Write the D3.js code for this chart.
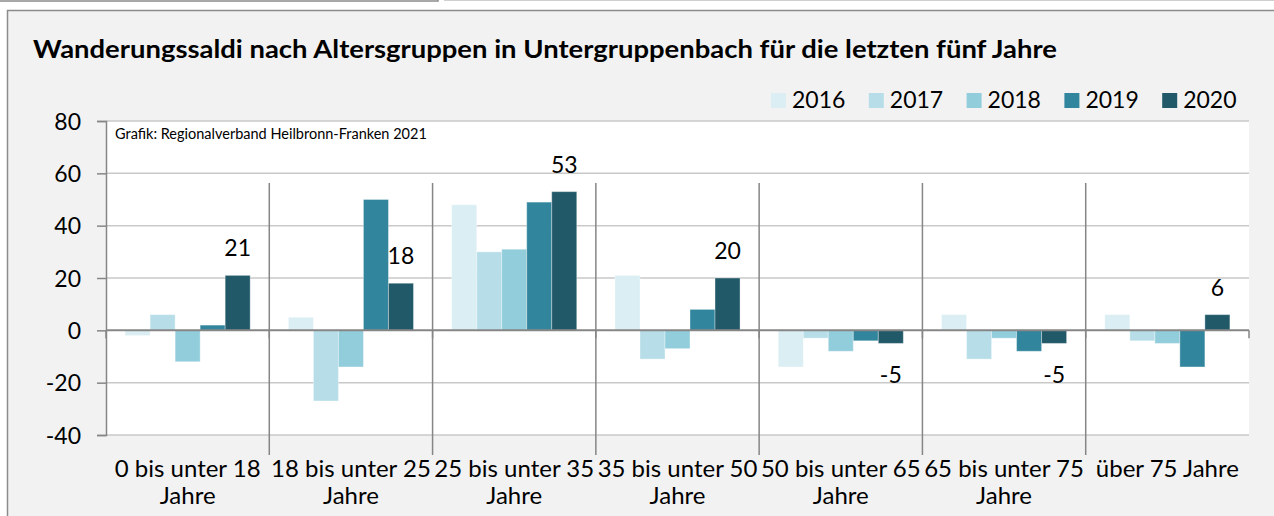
<!DOCTYPE html>
<html>
<head>
<meta charset="utf-8">
<script src="https://cdn.jsdelivr.net/npm/d3@7"></script>
<style>
    body { margin: 0; background: #ffffff; }
    svg text { font-family: Lato, "Open Sans", sans-serif; fill: #000; }
</style>
</head>
<body>
<div id="chart"></div>
<script>
const categories = ["0 bis unter 18 Jahre", "18 bis unter 25 Jahre", "25 bis unter 35 Jahre",
    "35 bis unter 50 Jahre", "50 bis unter 65 Jahre", "65 bis unter 75 Jahre", "über 75 Jahre"];
const years = ["2016", "2017", "2018", "2019", "2020"];

const values2016 = [-2, 5, 48, 21, -14, 6, 6];
const values2017 = [6, -27, 30, -11, -3, -11, -4];
const values2018 = [-12, -14, 31, -7, -8, -3, -5];
const values2019 = [2, 50, 49, 8, -4, -8, -14];
const values2020 = [21, 18, 53, 20, -5, -5, 6];

const yTicks = [-40, -20, 0, 20, 40, 60, 80];

const colors = ["#daeef3", "#b7dee8", "#92cddc", "#31859c", "#215968"];

const series = [values2016, values2017, values2018, values2019, values2020];

const W = 1274, H = 516;
const margin = { top: 121, right: 25, bottom: 81, left: 106 };
const width = W - margin.left - margin.right;
const height = H - margin.top - margin.bottom;

const svg = d3.select("#chart")
    .append("svg")
    .attr("width", W)
    .attr("height", H);

// outer frame (chart area), slightly grey
svg.append("rect")
    .attr("x", 7.5).attr("y", 10.5)
    .attr("width", W).attr("height", H)
    .attr("fill", "#f2f2f2")
    .attr("stroke", "#8c8c8c")
    .attr("stroke-width", 1.5);

// bits of the neighbouring boxes at the top
svg.append("path")
    .attr("d", "M0,1 H438 V-2")
    .attr("fill", "none")
    .attr("stroke", "#8c8c8c")
    .attr("stroke-width", 1.5);
svg.append("line")
    .attr("x1", 444).attr("x2", W).attr("y1", 0.5).attr("y2", 0.5)
    .attr("stroke", "#cfcfcf");

// title is wider in the original font, so stretch it to the same length
svg.append("text")
    .attr("x", 33)
    .attr("y", 58)
    .attr("font-size", "24px")
    .attr("font-weight", "bold")
    .attr("textLength", 1024)
    .attr("lengthAdjust", "spacingAndGlyphs")
    .text("Wanderungssaldi nach Altersgruppen in Untergruppenbach für die letzten fünf Jahre");

const g = svg.append("g")
    .attr("transform", `translate(${margin.left}, ${margin.top})`);

const x0 = d3.scaleBand()
    .domain(categories)
    .range([0, width]);

const inner = x0.bandwidth() * 0.117;
const x1 = d3.scaleBand()
    .domain(years)
    .range([inner, x0.bandwidth() - inner]);

const y = d3.scaleLinear()
    .domain([-40, 80])
    .range([height, 0]);

// plot area
g.append("rect")
    .attr("width", width)
    .attr("height", height)
    .attr("fill", "#ffffff");

// gridlines
g.selectAll(".grid")
    .data(yTicks.filter(d => d !== 0))
    .join("line")
    .attr("x1", 0).attr("x2", width)
    .attr("y1", d => y(d)).attr("y2", d => y(d))
    .attr("stroke", "#c9c9c9")
    .attr("stroke-width", 1.5);

// y axis (plain hyphen for negatives, like the original)
const yAxis = g.append("g")
    .call(d3.axisLeft(y).tickValues(yTicks).tickSize(9).tickPadding(16).tickFormat(d => String(d)));
yAxis.select(".domain").attr("stroke", "#868686").attr("stroke-width", 1.5);
yAxis.selectAll(".tick line").attr("stroke", "#868686").attr("stroke-width", 1.5);
yAxis.selectAll(".tick text")
    .attr("font-size", "23px")
    .attr("font-family", "Lato, sans-serif")
    .attr("dy", "0.36em")
    .attr("fill", "#000");

// bars
const groups = g.selectAll(".cat")
    .data(categories)
    .join("g")
    .attr("transform", d => `translate(${x0(d)}, 0)`);

groups.selectAll("rect")
    .data((c, ci) => years.map((yr, si) => ({ year: yr, si: si, value: series[si][ci] })))
    .join("rect")
    .attr("x", d => x1(d.year))
    .attr("width", x1.bandwidth())
    .attr("y", d => y(Math.max(0, d.value)))
    .attr("height", d => Math.abs(y(d.value) - y(0)))
    .attr("fill", d => colors[d.si])
    .attr("stroke", "rgba(255,255,255,0.35)")
    .attr("stroke-width", 1);

// zero line + category ticks
g.append("line")
    .attr("x1", 0).attr("x2", width)
    .attr("y1", y(0)).attr("y2", y(0))
    .attr("stroke", "#868686")
    .attr("stroke-width", 2);

const bounds = categories.map(c => x0(c)).concat([width]);
g.selectAll(".ztick")
    .data(bounds)
    .join("line")
    .attr("x1", d => d).attr("x2", d => d)
    .attr("y1", y(0)).attr("y2", y(0) + 8)
    .attr("stroke", "#868686")
    .attr("stroke-width", 1.5);

// long separators between the age groups
g.selectAll(".sep")
    .data(bounds.slice(1, -1))
    .join("line")
    .attr("x1", d => d).attr("x2", d => d)
    .attr("y1", 62).attr("y2", 334)
    .attr("stroke", "#868686")
    .attr("stroke-width", 1.5);

// data labels for 2020
g.selectAll(".lbl")
    .data(values2020)
    .join("text")
    .attr("x", (d, i) => x0(categories[i]) + x1("2020") + x1.bandwidth() / 2)
    .attr("y", d => d >= 0 ? y(d) - 19 : y(d) + 40)
    .attr("text-anchor", "middle")
    .attr("font-size", "23px")
    .text(d => d);

g.append("text")
    .attr("x", 9)
    .attr("y", 18)
    .attr("font-size", "14.5px")
    .text("Grafik: Regionalverband Heilbronn-Franken 2021");

// category labels, wrapped before "Jahre" when too wide
const catLabels = g.selectAll(".clbl")
    .data(categories)
    .join("text")
    .attr("text-anchor", "middle")
    .attr("font-size", "24px")
    .attr("transform", d => `translate(${x0(d) + x0.bandwidth() / 2}, ${height + 42})`);

catLabels.each(function(d) {
    const t = d3.select(this);
    t.text(d);
    if (this.getComputedTextLength() > x0.bandwidth()) {
        const words = d.split(" ");
        const last = words.pop();
        t.text(null);
        t.append("tspan").attr("x", 0).attr("y", 0).text(words.join(" "));
        t.append("tspan").attr("x", 0).attr("y", 26.5).text(last);
    }
});

// legend
const legend = svg.append("g")
    .attr("transform", "translate(771, 93)");

years.forEach((yr, i) => {
    legend.append("rect")
        .attr("x", i * 97.8)
        .attr("y", 0)
        .attr("width", 15)
        .attr("height", 15)
        .attr("fill", colors[i]);

    legend.append("text")
        .attr("x", i * 97.8 + 21)
        .attr("y", 15)
        .attr("font-size", "23px")
        .text(yr);
});
</script>
</body>
</html>
